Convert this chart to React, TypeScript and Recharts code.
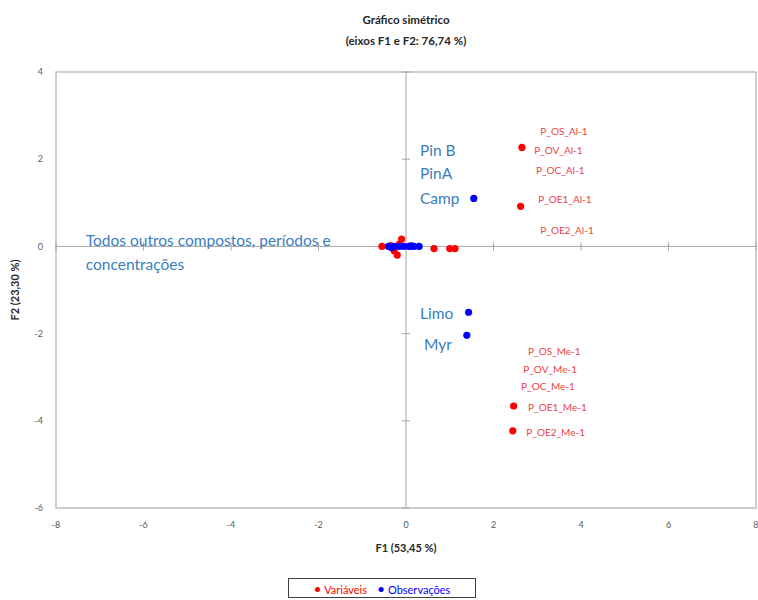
import { ReferenceArea, ReferenceDot, ReferenceLine, Scatter, ScatterChart, XAxis, YAxis } from 'recharts'

const xTicks = [-8, -6, -4, -2, 0, 2, 4, 6, 8]
const yTicks = [-6, -4, -2, 0, 2, 4]

// Variáveis (red)
const varX = [2.65, 2.62, 2.46, 2.44, 0.64, 1.0, 1.12, -0.55, -0.1, -0.2, -0.27, 0.07, -0.35, -0.15]
const varY = [2.27, 0.92, -3.66, -4.23, -0.05, -0.05, -0.05, 0.0, 0.17, -0.2, -0.1, 0.0, 0.02, 0.05]

// Observações (blue)
const obsX = [1.55, 1.43, 1.39, -0.4, -0.27, -0.15, -0.05, 0.07, 0.18, 0.3, -0.33, 0.12]
const obsY = [1.1, -1.51, -2.04, 0.0, 0.0, 0.0, 0.0, 0.0, 0.0, 0.0, -0.03, 0.01]

const varLabels = ['P_OS_Al-1', 'P_OV_Al-1', 'P_OC_Al-1', 'P_OE1_Al-1', 'P_OE2_Al-1', 'P_OS_Me-1', 'P_OV_Me-1', 'P_OC_Me-1', 'P_OE1_Me-1', 'P_OE2_Me-1']
const varLabelX = [3.07, 2.93, 2.97, 3.02, 3.07, 2.79, 2.68, 2.63, 2.79, 2.75]
const varLabelY = [2.65, 2.22, 1.76, 1.08, 0.37, -2.4, -2.81, -3.2, -3.68, -4.26]

const obsLabels = ['Pin B', 'PinA', 'Camp', 'Limo', 'Myr', 'Todos outros compostos, períodos e', 'concentrações']
const obsLabelX = [0.32, 0.32, 0.32, 0.32, 0.41, -7.32, -7.32]
const obsLabelY = [2.22, 1.69, 1.1, -1.53, -2.24, 0.14, -0.41]

const RED = '#ff0000'
const BLUE = '#0000ff'
const FONT = 'Lato, "Open Sans", sans-serif'

const varData = varX.map((x, i) => ({ x, y: varY[i] }))
const obsData = obsX.map((x, i) => ({ x, y: obsY[i] }))
const varLabelData = varLabels.map((t, i) => ({ x: varLabelX[i], y: varLabelY[i], t }))
const obsLabelData = obsLabels.map((t, i) => ({ x: obsLabelX[i], y: obsLabelY[i], t }))

const textShape = (color: string, size: number) => (props: any) => (
  <text x={props.cx} y={props.cy} fill={color} fontSize={size} fontFamily={FONT} dominantBaseline="central">
    {props.payload.t}
  </text>
)

const dot = (props: any) => <circle cx={props.cx} cy={props.cy} r={3.6} fill={props.fill} />

const tickMark = (horizontal: boolean) => (props: any) =>
  horizontal ? (
    <line x1={props.cx - 4} x2={props.cx + 4} y1={props.cy} y2={props.cy} stroke="#a6a6a6" />
  ) : (
    <line x1={props.cx} x2={props.cx} y1={props.cy - 4} y2={props.cy + 4} stroke="#a6a6a6" />
  )

const tickStyle = { fontSize: 9, fill: '#595959', fontFamily: FONT }

export default function App() {
  return (
    <div style={{ position: 'absolute', left: 0, top: 0, width: 758, height: 600, background: '#fff', fontFamily: FONT }}>
      <div style={{ position: 'absolute', left: 0, width: 812, top: 9, textAlign: 'center', fontSize: 11.5, fontWeight: 700, color: '#262626', lineHeight: '21px' }}>
        Gráfico simétrico
        <br />
        (eixos F1 e F2: 76,74 %)
      </div>
      <ScatterChart width={758} height={600} margin={{ top: 72, right: 2, bottom: 52, left: 0 }}>
        <XAxis
          type="number"
          dataKey="x"
          domain={[-8, 8]}
          ticks={xTicks}
          axisLine={false}
          tickLine={false}
          tickMargin={8}
          height={40}
          tick={tickStyle}
          allowDataOverflow
          label={{ value: 'F1 (53,45 %)', position: 'insideBottom', offset: -4, style: { fontSize: 11, fontWeight: 700, fill: '#262626', fontFamily: FONT } }}
        />
        <YAxis
          type="number"
          dataKey="y"
          domain={[-6, 4]}
          ticks={yTicks}
          axisLine={false}
          tickLine={false}
          tickMargin={7}
          width={56}
          tick={tickStyle}
          allowDataOverflow
          label={{ value: 'F2 (23,30 %)', angle: -90, position: 'insideLeft', offset: 15, style: { textAnchor: 'middle', fontSize: 11, fontWeight: 700, fill: '#262626', fontFamily: FONT } }}
        />
        <ReferenceArea x1={-8} x2={8} y1={-6} y2={4} fill="none" stroke="#bfbfbf" strokeWidth={1.5} />
        <ReferenceLine x={0} stroke="#a6a6a6" />
        <ReferenceLine y={0} stroke="#a6a6a6" />
        {yTicks.filter((v) => v !== 0).map((v) => (
          <ReferenceDot key={'ty' + v} x={0} y={v} shape={tickMark(true)} />
        ))}
        {xTicks.filter((v) => v !== 0).map((v) => (
          <ReferenceDot key={'tx' + v} x={v} y={0} shape={tickMark(false)} />
        ))}
        <Scatter name="labelsVar" data={varLabelData} shape={textShape('#ec3f45', 10)} isAnimationActive={false} />
        <Scatter name="labelsObs" data={obsLabelData} shape={textShape('#3a7dbf', 15.5)} isAnimationActive={false} />
        <Scatter name="Variáveis" data={varData} fill={RED} shape={dot} isAnimationActive={false} />
        <Scatter name="Observações" data={obsData} fill={BLUE} shape={dot} isAnimationActive={false} />
      </ScatterChart>
      <div
        style={{
          position: 'absolute',
          left: 288,
          top: 578,
          width: 186,
          height: 18,
          border: '1px solid #404040',
          display: 'flex',
          alignItems: 'center',
          justifyContent: 'center',
          gap: 10,
          fontSize: 11,
        }}
      >
        <span style={{ color: RED }}>
          <span style={{ fontSize: 14 }}>•</span> Variáveis
        </span>
        <span style={{ color: BLUE }}>
          <span style={{ fontSize: 14 }}>•</span> Observações
        </span>
      </div>
    </div>
  )
}
